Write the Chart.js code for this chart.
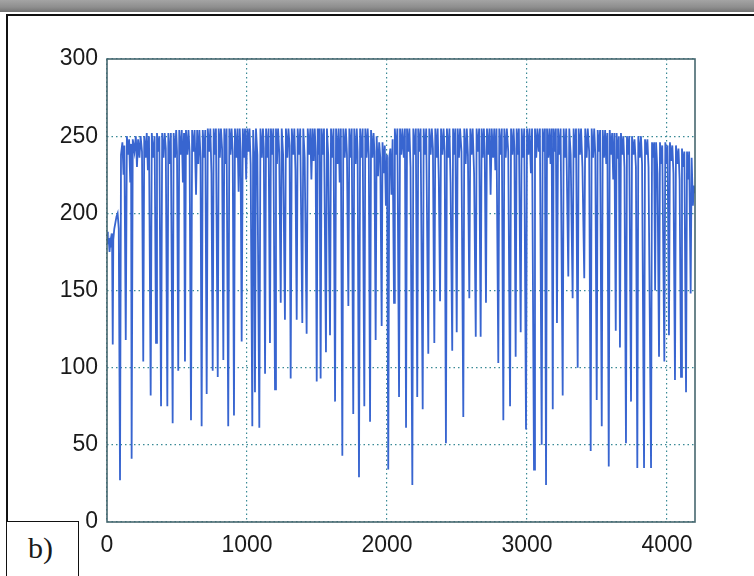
<!DOCTYPE html>
<html>
<head>
<meta charset="utf-8">
<script src="https://cdn.jsdelivr.net/npm/chart.js@4/dist/chart.umd.min.js"></script>
<style>
  html, body { margin: 0; padding: 0; background: #ffffff; }
  #wrap { position: relative; width: 754px; height: 576px; overflow: hidden; background: #fff; }
  #band { position: absolute; left: 0; top: 0; width: 754px; height: 12px;
          background: linear-gradient(180deg, #a4a4a4 0%, #8e8e8e 60%, #727272 100%); }
  #frame { position: absolute; left: 6px; top: 14px; width: 760px; height: 600px;
           border: 2px solid #111; box-sizing: border-box; }
  #tag { position: absolute; left: 6px; top: 521px; width: 73px; height: 70px;
         border: 1.5px solid #111; box-sizing: border-box; background: #fff;
         font-family: "Liberation Serif", "DejaVu Serif", serif; font-size: 30px; color: #1a1a1a; }
  #tag span { position: absolute; left: 21px; top: 9px; }
  canvas { position: absolute; left: 0; top: 0; }
</style>
</head>
<body>
<div id="wrap">
  <div id="band"></div>
  <div id="frame"></div>
  <canvas id="c" width="754" height="576"></canvas>
  <div id="tag"><span>b)</span></div>
</div>
<script>
// ---- data: [sample index, value] ----
const trace0to1000 = [[0,188],[6,180],[12,184],[18,175],[24,182],[30,178],[36,187],[41,115],[45,183],[52,190],[60,194],[68,198],[76,200],[84,190],[93,27],[100,238],[110,246],[118,225],[124,244],[134,118],[142,250],[150,238],[158,248],[166,220],[172,245],[176,41],[184,248],[196,240],[206,250],[214,230],[222,248],[232,236],[240,250],[250,240],[259,104],[266,250],[276,236],[284,252],[292,228],[300,250],[312,82],[320,252],[330,236],[340,250],[350,116],[357,252],[366,240],[374,250],[386,75],[394,252],[404,236],[412,252],[420,242],[431,75],[438,252],[448,232],[456,252],[469,64],[476,252],[486,236],[494,254],[500,240],[509,98],[516,254],[526,238],[534,254],[542,220],[550,252],[557,104],[564,254],[574,238],[582,254],[590,240],[600,66],[608,254],[618,240],[626,254],[636,212],[644,254],[652,232],[660,254],[668,236],[676,62],[684,254],[694,236],[702,254],[712,83],[720,255],[730,240],[738,255],[746,226],[755,98],[762,255],[770,238],[778,255],[791,94],[798,255],[806,236],[814,255],[822,242],[831,105],[838,255],[846,232],[854,255],[866,62],[874,255],[882,238],[890,255],[898,240],[907,69],[914,255],[924,236],[932,255],[940,214],[948,255],[954,240],[962,117],[970,255],[978,236],[986,255],[994,222]];

const trace1000to2000 = [[1002,255],[1010,240],[1018,255],[1026,232],[1038,62],[1044,254],[1050,240],[1057,84],[1064,255],[1074,238],[1088,61],[1096,255],[1106,236],[1114,255],[1120,242],[1129,96],[1136,255],[1146,236],[1154,255],[1164,116],[1171,255],[1180,238],[1188,255],[1200,86],[1207,255],[1214,232],[1222,255],[1230,240],[1241,142],[1248,255],[1258,238],[1271,131],[1278,255],[1288,236],[1296,255],[1304,244],[1312,93],[1320,255],[1330,238],[1338,255],[1346,228],[1355,131],[1362,255],[1372,238],[1380,255],[1395,129],[1402,255],[1412,236],[1426,122],[1434,255],[1444,238],[1452,255],[1460,222],[1468,255],[1476,234],[1484,255],[1490,240],[1498,91],[1505,255],[1512,238],[1518,255],[1526,93],[1533,255],[1542,238],[1550,255],[1564,110],[1571,255],[1580,238],[1593,121],[1600,255],[1610,236],[1618,255],[1629,78],[1636,255],[1646,232],[1654,255],[1662,220],[1670,255],[1681,43],[1688,255],[1698,236],[1706,255],[1714,238],[1724,140],[1731,255],[1740,236],[1748,255],[1759,70],[1766,255],[1776,232],[1784,255],[1790,240],[1800,29],[1808,255],[1818,236],[1826,255],[1838,75],[1845,255],[1854,236],[1862,255],[1870,238],[1879,65],[1886,254],[1896,236],[1904,252],[1910,240],[1919,118],[1926,250],[1936,224],[1944,246],[1952,236],[1962,127],[1968,246],[1976,226],[1984,244],[1992,205],[2000,238]];

const trace2000to3000 = [[2009,34],[2016,236],[2024,242],[2032,212],[2040,248],[2050,142],[2056,255],[2066,238],[2074,255],[2086,81],[2093,255],[2102,238],[2110,255],[2120,236],[2128,255],[2136,61],[2143,255],[2152,240],[2160,255],[2168,230],[2181,24],[2188,255],[2198,238],[2206,255],[2216,81],[2223,255],[2232,240],[2240,255],[2255,73],[2262,255],[2272,238],[2280,255],[2295,109],[2302,255],[2312,238],[2320,255],[2328,242],[2338,116],[2345,255],[2354,236],[2362,255],[2370,222],[2379,143],[2386,255],[2396,238],[2404,255],[2412,240],[2421,51],[2428,255],[2438,236],[2446,255],[2454,220],[2466,111],[2472,255],[2480,238],[2488,255],[2498,123],[2505,255],[2514,236],[2522,255],[2532,240],[2545,68],[2552,255],[2562,232],[2570,255],[2578,238],[2588,145],[2595,255],[2604,238],[2612,255],[2622,226],[2634,120],[2640,255],[2650,240],[2658,255],[2669,120],[2676,255],[2684,236],[2692,255],[2698,240],[2707,142],[2714,255],[2724,238],[2732,255],[2740,212],[2748,255],[2758,236],[2766,255],[2774,228],[2782,255],[2795,103],[2802,255],[2812,238],[2820,255],[2831,66],[2838,255],[2848,236],[2856,255],[2866,240],[2879,75],[2886,255],[2896,238],[2904,255],[2910,242],[2919,107],[2926,255],[2934,238],[2942,255],[2955,123],[2962,255],[2972,236],[2980,255],[2993,60]];

const trace3000to4200 = [[3000,255],[3010,238],[3018,255],[3028,226],[3036,255],[3050,34],[3057,255],[3066,236],[3074,255],[3084,240],[3092,255],[3105,50],[3112,255],[3120,240],[3128,255],[3136,24],[3143,255],[3152,236],[3160,255],[3168,232],[3176,255],[3184,73],[3190,255],[3198,240],[3206,255],[3214,129],[3222,255],[3232,238],[3240,255],[3255,82],[3262,255],[3272,236],[3280,255],[3295,159],[3302,255],[3312,238],[3326,145],[3333,255],[3342,236],[3350,255],[3362,100],[3369,255],[3378,238],[3386,255],[3396,230],[3409,158],[3416,255],[3426,236],[3434,255],[3444,240],[3455,46],[3462,255],[3472,236],[3480,255],[3488,238],[3498,79],[3505,254],[3514,240],[3522,254],[3534,62],[3541,254],[3550,236],[3558,254],[3566,232],[3574,252],[3584,36],[3591,254],[3600,238],[3608,252],[3616,222],[3624,252],[3634,124],[3640,252],[3650,236],[3656,250],[3664,113],[3671,252],[3680,238],[3688,250],[3696,230],[3707,51],[3714,250],[3722,238],[3730,250],[3743,78],[3750,250],[3760,238],[3768,248],[3778,230],[3788,35],[3795,250],[3806,236],[3814,250],[3822,232],[3836,35],[3843,248],[3852,238],[3860,248],[3868,230],[3886,35],[3893,246],[3900,236],[3908,246],[3915,150],[3922,246],[3932,226],[3943,107],[3950,246],[3958,232],[3966,244],[3981,104],[3988,246],[3996,232],[4004,244],[4014,121],[4021,246],[4030,234],[4038,244],[4046,226],[4057,92],[4064,244],[4074,232],[4082,242],[4090,222],[4100,94],[4107,242],[4116,230],[4124,240],[4136,84],[4143,240],[4150,222],[4158,240],[4169,148],[4176,236],[4185,205],[4192,218],[4200,213]];

const xTickValues = [0, 1000, 2000, 3000, 4000];
const yTickValues = [0, 50, 100, 150, 200, 250, 300];

// ---- chart ----
const points = [].concat(trace0to1000, trace1000to2000, trace2000to3000, trace3000to4200)
  .map(p => ({ x: p[0], y: p[1] }));

const frameBox = {
  id: 'frameBox',
  afterDraw(chart) {
    const { ctx, chartArea: a } = chart;
    ctx.save();
    ctx.strokeStyle = '#46676f';
    ctx.lineWidth = 1.6;
    ctx.strokeRect(a.left, a.top, a.right - a.left, a.bottom - a.top);
    ctx.restore();
  }
};

const tickFont = { family: '"Liberation Sans", Arial, Helvetica, sans-serif', size: 23 };
const gridStyle = { color: '#3a8a96', lineWidth: 1.2, drawTicks: false };
const dotted = { display: false, dash: [1.5, 3] };

new Chart(document.getElementById('c'), {
  type: 'scatter',
  data: {
    datasets: [{
      data: points,
      showLine: true,
      borderColor: '#3865d0',
      borderWidth: 1.8,
      pointRadius: 0,
      tension: 0,
      fill: false
    }]
  },
  options: {
    responsive: false,
    animation: false,
    events: [],
    layout: { padding: { left: 0, top: 59, right: 59, bottom: 0 } },
    plugins: { legend: { display: false }, tooltip: { enabled: false } },
    scales: {
      x: {
        type: 'linear', min: 0, max: 4200,
        afterBuildTicks: s => { s.ticks = xTickValues.map(v => ({ value: v })); },
        afterFit: s => { s.height = 54; },
        border: dotted,
        grid: gridStyle,
        ticks: { font: tickFont, color: '#1a1a1a', padding: 10, maxRotation: 0, callback: v => String(v) }
      },
      y: {
        type: 'linear', min: 0, max: 300,
        afterBuildTicks: s => { s.ticks = yTickValues.map(v => ({ value: v })); },
        afterFit: s => { s.width = 107; },
        border: dotted,
        grid: gridStyle,
        ticks: { font: tickFont, color: '#1a1a1a', padding: 9, callback: v => String(v) }
      }
    }
  },
  plugins: [frameBox]
});
</script>
</body>
</html>
